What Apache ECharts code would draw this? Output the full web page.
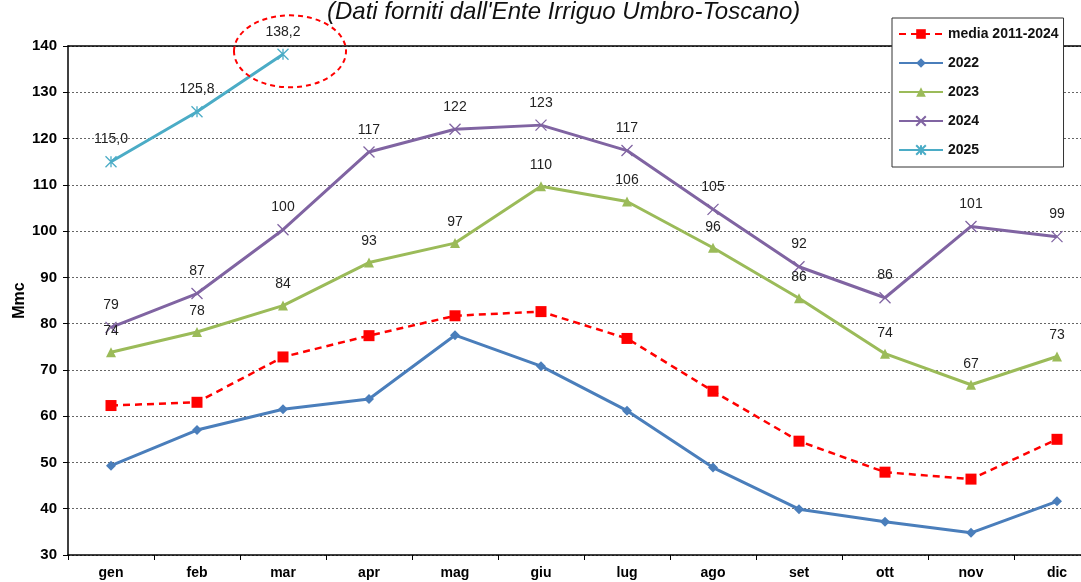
<!DOCTYPE html>
<html><head><meta charset="utf-8">
<script src="https://cdn.jsdelivr.net/npm/echarts@6/dist/echarts.min.js"></script>
<style>html,body{margin:0;padding:0;background:#fff}#c{width:1081px;height:582px}</style>
</head><body><div id="c"></div>
<script>
const months = ['gen','feb','mar','apr','mag','giu','lug','ago','set','ott','nov','dic'];
const media = [62.3, 63.0, 72.8, 77.4, 81.7, 82.6, 76.8, 65.4, 54.6, 47.9, 46.4, 55.0];
const y2022 = [49.3, 57.0, 61.5, 63.7, 77.5, 70.8, 61.2, 48.9, 39.9, 37.2, 34.8, 41.6];
const y2023 = [73.8, 78.2, 83.9, 93.2, 97.4, 109.7, 106.4, 96.4, 85.5, 73.5, 66.8, 72.9];
const y2024 = [79.2, 86.5, 100.3, 117.1, 122.0, 122.9, 117.4, 104.7, 92.3, 85.6, 101.0, 98.8];
const y2025 = [115.0, 125.8, 138.2];
const labels2023 = ['74','78','84','93','97','110','106','96','86','74','67','73'];
const labels2024 = ['79','87','100','117','122','123','117','105','92','86','101','99'];
const labels2025 = ['115,0','125,8','138,2'];
const yTicks = [30, 140, 10];

const chart = echarts.init(document.getElementById('c'));
const font = 'Arial, "Liberation Sans", sans-serif';
const xMark = 'path://M0,0L10,10M10,0L0,10';
const starMark = 'path://M0,0L10,10M10,0L0,10M5,0L5,10';
function lbl(arr){ return {show:true, position:'top', distance:9, color:'#222', fontSize:14, fontFamily:font, formatter:p=>arr[p.dataIndex]}; }

chart.setOption({
  animation:false,
  title:{text:"(Dati forniti dall'Ente Irriguo Umbro-Toscano)", left:322, top:-5, textStyle:{fontStyle:'italic', fontWeight:'normal', fontSize:24, fontFamily:font, color:'#111'}},
  grid:{left:68, top:46, width:1032, height:509, containLabel:false, outerBoundsMode:'none'},
  legend:{orient:'vertical', left:892, top:18, padding:[9,5,10,6], itemGap:15, itemWidth:44, itemHeight:12,
    backgroundColor:'#fff', borderColor:'#333', borderWidth:1,
    textStyle:{fontWeight:'bold', fontSize:14, fontFamily:font, color:'#111'},
    data:['media 2011-2024','2022','2023','2024','2025']},
  xAxis:[{type:'category', data:months, boundaryGap:true,
    axisLine:{lineStyle:{color:'#000', width:1.5}}, axisTick:{show:true, length:5, lineStyle:{color:'#000'}},
    axisLabel:{color:'#000', fontWeight:'bold', fontSize:14, fontFamily:font, margin:11}},
    {type:'category', data:months, position:'top', axisLine:{show:true, lineStyle:{color:'#000', width:1.5}}, axisTick:{show:false}, axisLabel:{show:false}}],
  yAxis:{type:'value', min:yTicks[0], max:yTicks[1], interval:yTicks[2], name:'Mmc', nameLocation:'middle', nameGap:40, nameMoveOverlap:false,
    nameTextStyle:{fontWeight:'bold', fontSize:16, fontFamily:font, color:'#000'},
    axisLine:{show:true, lineStyle:{color:'#000', width:1.5}}, axisTick:{show:true, length:5, lineStyle:{color:'#000'}},
    axisLabel:{color:'#000', fontWeight:'bold', fontSize:15, fontFamily:font, margin:11},
    splitLine:{lineStyle:{color:'#666', type:[2,2], width:1}}},
  series:[
    {name:'media 2011-2024', type:'line', data:media, symbol:'rect', symbolSize:11, z:3,
      lineStyle:{color:'#ff0000', width:2.5, type:[7,5]}, itemStyle:{color:'#ff0000'}},
    {name:'2022', type:'line', data:y2022, symbol:'diamond', symbolSize:10,
      lineStyle:{color:'#4a7ebb', width:3}, itemStyle:{color:'#4a7ebb'}},
    {name:'2023', type:'line', data:y2023, symbol:'triangle', symbolSize:10,
      lineStyle:{color:'#9bbb59', width:3}, itemStyle:{color:'#9bbb59'}, label:lbl(labels2023)},
    {name:'2024', type:'line', data:y2024, symbol:xMark, symbolSize:11,
      lineStyle:{color:'#8064a2', width:3}, itemStyle:{color:'#8064a2', borderColor:'#8064a2', borderWidth:1.3}, label:lbl(labels2024)},
    {name:'2025', type:'line', data:y2025, symbol:starMark, symbolSize:11,
      lineStyle:{color:'#4bacc6', width:3}, itemStyle:{color:'#4bacc6', borderColor:'#4bacc6', borderWidth:1.3}, label:lbl(labels2025)}
  ]
});
const pt = chart.convertToPixel({seriesIndex:4}, [2, y2025[2]]);
chart.setOption({graphic:[{type:'ellipse', shape:{cx:pt[0]+7, cy:pt[1]-3, rx:56, ry:36},
  style:{fill:'none', stroke:'#ff0000', lineWidth:2, lineDash:[5,4]}, z:100}]});
</script></body></html>
